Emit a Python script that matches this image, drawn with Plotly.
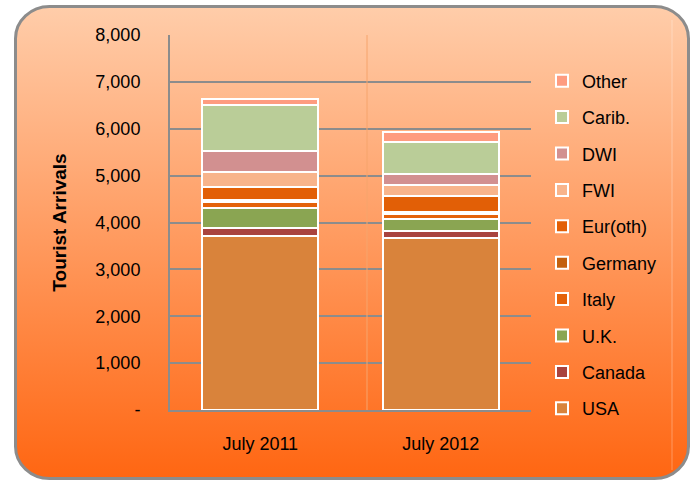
import base64
import plotly.graph_objects as go

# ---------------- data ----------------
categories = ["July 2011", "July 2012"]
usa = [3716, 3673]
canada = [171, 141]
uk = [413, 265]
italy = [128, 113]
germany = [43, 32]
eur_oth = [289, 332]
fwi = [325, 242]
dwi = [441, 244]
carib = [978, 670]
other = [139, 225]

series_names = ["USA", "Canada", "U.K.", "Italy", "Germany", "Eur(oth)",
                "FWI", "DWI", "Carib.", "Other"]
series_values = [usa, canada, uk, italy, germany, eur_oth, fwi, dwi, carib, other]
series_colors = ["#D9833B", "#A9443F", "#8AA552", "#E4620A", "#C3600E",
                 "#E25F06", "#F8B48B", "#D29090", "#BACD98", "#FE9C80"]

y_tick_values = [0, 1000, 2000, 3000, 4000, 5000, 6000, 7000, 8000]
y_tick_labels = ["-", "1,000", "2,000", "3,000", "4,000", "5,000",
                 "6,000", "7,000", "8,000"]

# ---------------- layout constants ----------------
W, H = 691, 480
ML, MR, MT, MB = 170, 160, 35, 70
PW, PH = W - ML - MR, H - MT - MB
FONT = "Liberation Sans, Arial, sans-serif"

# rounded gradient background panel as an SVG image
svg = f'''<svg xmlns="http://www.w3.org/2000/svg" width="{W}" height="{H}" viewBox="0 0 {W} {H}">
<defs><linearGradient id="g" x1="0" y1="0" x2="0" y2="1">
<stop offset="0" stop-color="#FFCDAA"/>
<stop offset="1" stop-color="#FF6612"/>
</linearGradient></defs>
<rect x="15.5" y="6.5" width="673" height="472" rx="34" ry="32" fill="url(#g)" stroke="#8C8C8C" stroke-width="3"/>
<line x1="672" y1="20" x2="672" y2="470" stroke="#FFFFFF" stroke-opacity="0.3" stroke-width="1"/>
</svg>'''
src = "data:image/svg+xml;base64," + base64.b64encode(svg.encode()).decode()

fig = go.Figure()
n = len(series_names)
for i, (name, vals, col) in enumerate(zip(series_names, series_values, series_colors)):
    fig.add_trace(go.Bar(
        x=categories, y=vals, name=name, legendgroup=name,
        legendrank=100 * (n - i),
        marker=dict(color=col, line=dict(color="white", width=2)),
    ))

fig.add_layout_image(dict(
    source=src, xref="paper", yref="paper",
    x=-ML / PW, y=1 + MT / PH, sizex=W / PW, sizey=H / PH,
    xanchor="left", yanchor="top", sizing="stretch", layer="below",
))

fig.add_shape(type="line", xref="paper", yref="paper",
              x0=(367 - ML) / PW, x1=(367 - ML) / PW, y0=0, y1=1,
              line=dict(color="#F6A46C", width=1), layer="above")

fig.update_layout(
    width=W, height=H,
    margin=dict(l=ML, r=MR, t=MT, b=MB),
    paper_bgcolor="white", plot_bgcolor="white",
    barmode="stack", bargap=0.36,
    font=dict(family=FONT, size=18, color="#000000"),
    showlegend=True,
    legend=dict(
        traceorder="grouped", tracegroupgap=10,
        x=542 / W, xref="container", xanchor="left",
        y=(MT + PH - 244.5) / PH, yref="paper", yanchor="middle",
        bgcolor="rgba(0,0,0,0)", font=dict(size=18, family=FONT),
        itemwidth=30,
    ),
    xaxis=dict(
        showline=True, linecolor="#8C8C8C", linewidth=2,
        ticks="", ticklabelstandoff=16,
        tickfont=dict(size=18),
    ),
    yaxis=dict(
        range=[0, 8000], tickvals=y_tick_values, ticktext=y_tick_labels,
        showgrid=True, gridcolor="#8C8C8C", gridwidth=1.5,
        showline=True, linecolor="#8C8C8C", linewidth=2,
        ticks="", ticklabelstandoff=24, zeroline=False,
        tickfont=dict(size=18),
        title=dict(text="<b>Tourist Arrivals</b>", font=dict(size=19), standoff=24),
    ),
)

fig.write_html("out.html", config={"displayModeBar": False},
               post_script="document.body.style.margin='0';")
